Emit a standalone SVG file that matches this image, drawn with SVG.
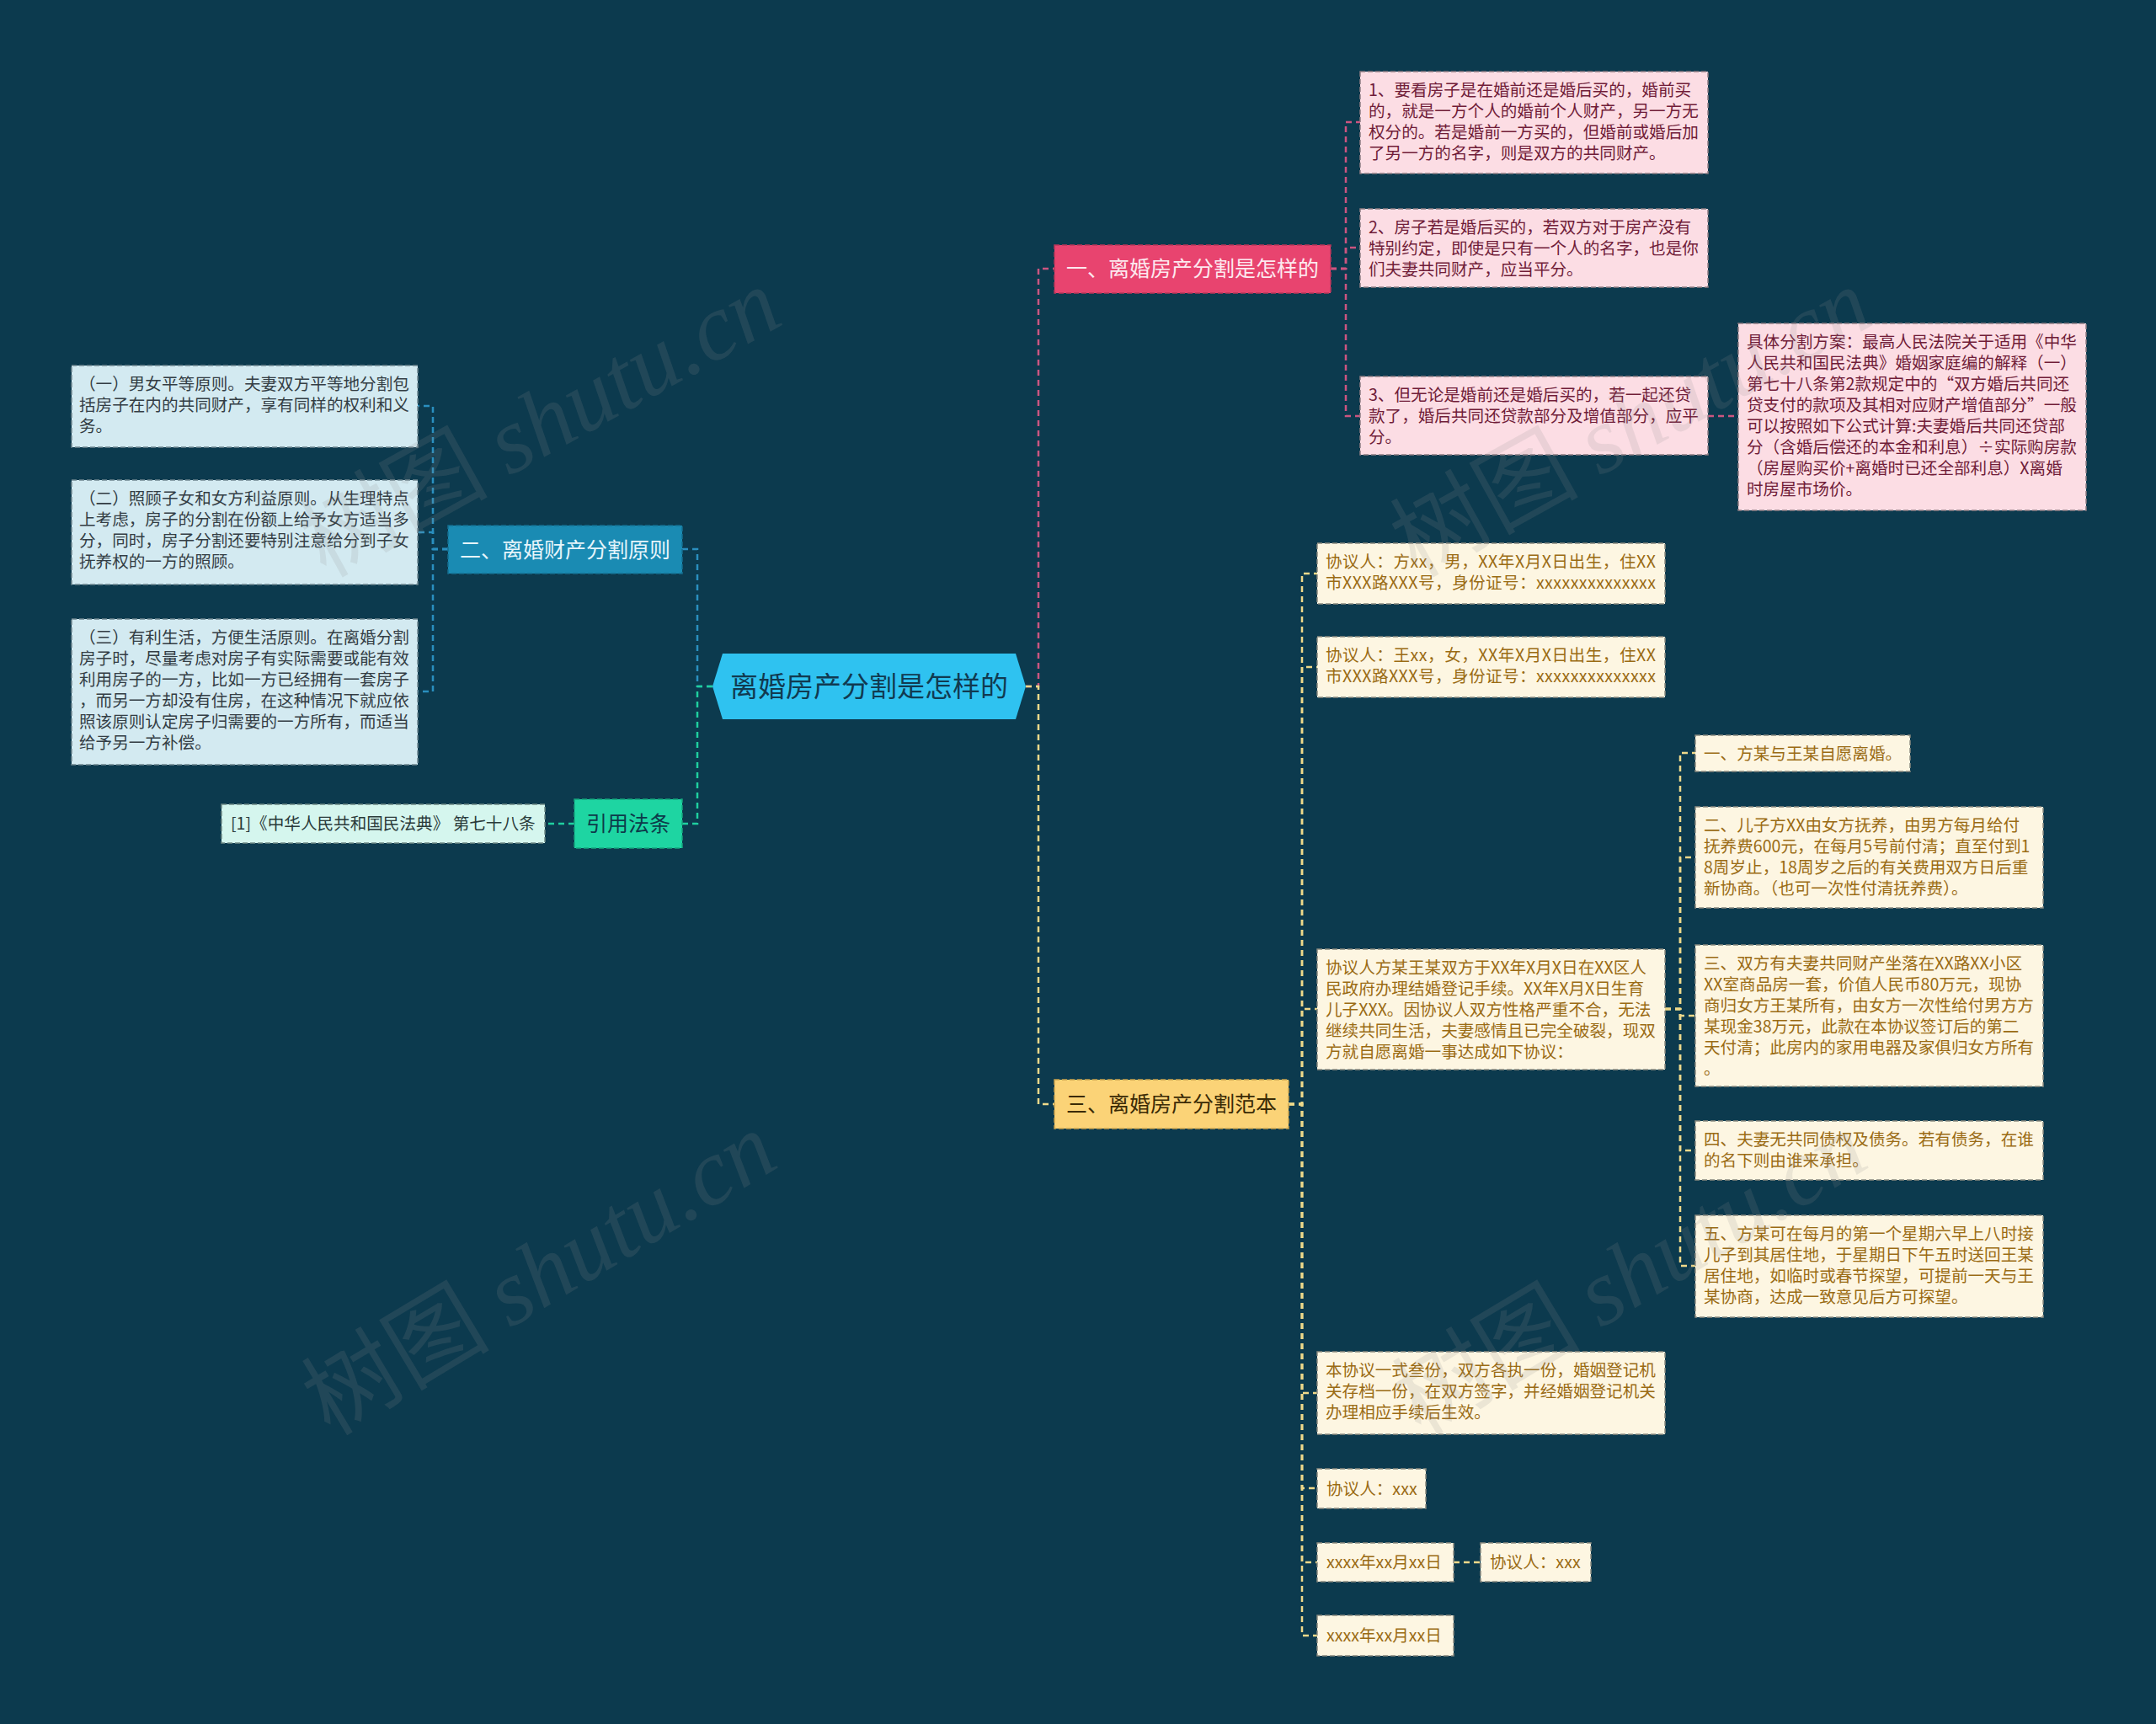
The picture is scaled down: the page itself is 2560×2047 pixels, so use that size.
<svg xmlns="http://www.w3.org/2000/svg" width="2560" height="2047" viewBox="0 0 2560 2047">
<style>
text{font-family:"Noto Sans CJK SC","Noto Sans",sans-serif;}
.c{fill:none;stroke-width:2.5;stroke-dasharray:7 5;}
.cp{stroke:#cc5580;}
.cb{stroke:#2a8fbf;}
.cg{stroke:#1fcf9f;}
.cy{stroke:#efd98a;}
.bd{stroke-width:1.5;stroke-dasharray:6 3;}
.pk{fill:#fcdde4;stroke:#8f7d84;}
.bl{fill:#d3eaf1;stroke:#6f8790;}
.mn{fill:#d5f6ee;stroke:#6f8a86;}
.cr{fill:#fdf6e2;stroke:#8a8a80;}
.tp{fill:#701c38;font-size:19.6px;}
.tb{fill:#333d44;font-size:19.6px;}
.ty{fill:#9a6b14;font-size:19.6px;}
.tm{fill:#2a3a3a;font-size:19.6px;}
.br{font-size:25px;text-anchor:middle;}
.wm{fill:#8c8c8c;fill-opacity:0.16;font-size:112px;}
</style>
<rect x="0" y="0" width="2560" height="2047" fill="#0c3a4e"/>

<g id="connectors">
<path class="c cp" d="M1218,815 H1233 V319 H1252"/>
<path class="c cy" d="M1218,815 H1233 V1311 H1252"/>
<path class="c cb" d="M846,815 H828 V652 H810"/>
<path class="c cg" d="M846,815 H828 V978 H810"/>
<path class="c cp" d="M1580,319 H1598 V145 H1615"/>
<path class="c cp" d="M1580,319 H1598 V294 H1615"/>
<path class="c cp" d="M1580,319 H1598 V494 H1615"/>
<path class="c cp" d="M2028,494 H2064"/>
<path class="c cb" d="M532,652 H514 V482 H496"/>
<path class="c cb" d="M532,652 H514 V632 H496"/>
<path class="c cb" d="M532,652 H514 V821 H496"/>
<path class="c cg" d="M682,978 H647"/>
<path class="c cy" d="M1530,1311 H1546 V681 H1564"/>
<path class="c cy" d="M1530,1311 H1546 V792 H1564"/>
<path class="c cy" d="M1530,1311 H1546 V1198 H1564"/>
<path class="c cy" d="M1530,1311 H1546 V1654 H1564"/>
<path class="c cy" d="M1530,1311 H1546 V1767 H1564"/>
<path class="c cy" d="M1530,1311 H1546 V1855 H1564"/>
<path class="c cy" d="M1530,1311 H1546 V1942 H1564"/>
<path class="c cy" d="M1726,1855 H1758"/>
<path class="c cy" d="M1977,1198 H1995 V894 H2013"/>
<path class="c cy" d="M1977,1198 H1995 V1018 H2013"/>
<path class="c cy" d="M1977,1198 H1995 V1206 H2013"/>
<path class="c cy" d="M1977,1198 H1995 V1366 H2013"/>
<path class="c cy" d="M1977,1198 H1995 V1503 H2013"/>
</g>

<g id="root">
<polygon points="858,776 1206,776 1218,815 1206,854 858,854 846,815" fill="#2fc2f0"/>
<text x="1032" y="827" font-size="33" text-anchor="middle" fill="#113a50">离婚房产分割是怎样的</text>
</g>

<g id="branch1">
<rect x="1252" y="291" width="328" height="57" fill="#e8446f" stroke="#b8365a" class="bd"/>
<text class="br" x="1416" y="328" fill="#fde9ef">一、离婚房产分割是怎样的</text>
</g>
<g id="p1">
<rect class="pk bd" x="1615" y="85" width="413" height="121"/>
<text class="tp"><tspan x="1625" y="114">1、要看房子是在婚前还是婚后买的，婚前买</tspan><tspan x="1625" y="139">的，就是一方个人的婚前个人财产，另一方无</tspan><tspan x="1625" y="164">权分的。若是婚前一方买的，但婚前或婚后加</tspan><tspan x="1625" y="189">了另一方的名字，则是双方的共同财产。</tspan></text>
</g>
<g id="p2">
<rect class="pk bd" x="1615" y="248" width="413" height="93"/>
<text class="tp"><tspan x="1625" y="277">2、房子若是婚后买的，若双方对于房产没有</tspan><tspan x="1625" y="302">特别约定，即使是只有一个人的名字，也是你</tspan><tspan x="1625" y="327">们夫妻共同财产，应当平分。</tspan></text>
</g>
<g id="p3">
<rect class="pk bd" x="1615" y="447" width="413" height="93"/>
<text class="tp"><tspan x="1625" y="476">3、但无论是婚前还是婚后买的，若一起还贷</tspan><tspan x="1625" y="501">款了，婚后共同还贷款部分及增值部分，应平</tspan><tspan x="1625" y="526">分。</tspan></text>
</g>
<g id="p4">
<rect class="pk bd" x="2064" y="384" width="413" height="222"/>
<text class="tp"><tspan x="2074" y="413">具体分割方案：最高人民法院关于适用《中华</tspan><tspan x="2074" y="438">人民共和国民法典》婚姻家庭编的解释（一）</tspan><tspan x="2074" y="463">第七十八条第2款规定中的“双方婚后共同还</tspan><tspan x="2074" y="488">贷支付的款项及其相对应财产增值部分”一般</tspan><tspan x="2074" y="513">可以按照如下公式计算:夫妻婚后共同还贷部</tspan><tspan x="2074" y="538">分（含婚后偿还的本金和利息）÷实际购房款</tspan><tspan x="2074" y="563">（房屋购买价+离婚时已还全部利息）X离婚</tspan><tspan x="2074" y="588">时房屋市场价。</tspan></text>
</g>

<g id="branch2">
<rect x="532" y="624" width="278" height="57" fill="#1a8bb3" stroke="#146f90" class="bd"/>
<text class="br" x="671" y="662" fill="#e6f5fb">二、离婚财产分割原则</text>
</g>
<g id="b1">
<rect class="bl bd" x="85" y="434" width="411" height="97"/>
<text class="tb"><tspan x="94" y="463">（一）男女平等原则。夫妻双方平等地分割包</tspan><tspan x="94" y="488">括房子在内的共同财产，享有同样的权利和义</tspan><tspan x="94" y="513">务。</tspan></text>
</g>
<g id="b2">
<rect class="bl bd" x="85" y="570" width="411" height="124"/>
<text class="tb"><tspan x="94" y="599">（二）照顾子女和女方利益原则。从生理特点</tspan><tspan x="94" y="624">上考虑，房子的分割在份额上给予女方适当多</tspan><tspan x="94" y="649">分，同时，房子分割还要特别注意给分到子女</tspan><tspan x="94" y="674">抚养权的一方的照顾。</tspan></text>
</g>
<g id="b3">
<rect class="bl bd" x="85" y="735" width="411" height="173"/>
<text class="tb"><tspan x="94" y="764">（三）有利生活，方便生活原则。在离婚分割</tspan><tspan x="94" y="789">房子时，尽量考虑对房子有实际需要或能有效</tspan><tspan x="94" y="814">利用房子的一方，比如一方已经拥有一套房子</tspan><tspan x="94" y="839">，而另一方却没有住房，在这种情况下就应依</tspan><tspan x="94" y="864">照该原则认定房子归需要的一方所有，而适当</tspan><tspan x="94" y="889">给予另一方补偿。</tspan></text>
</g>

<g id="law">
<rect x="682" y="949" width="128" height="58" fill="#1ed5a2" stroke="#15a57d" class="bd"/>
<text class="br" x="746" y="987" fill="#0d3a4a">引用法条</text>
</g>
<g id="law1">
<rect class="mn bd" x="263" y="955" width="384" height="46"/>
<text class="tm" x="274" y="985">[1]《中华人民共和国民法典》 第七十八条</text>
</g>

<g id="branch3">
<rect x="1252" y="1282" width="278" height="58" fill="#fbd377" stroke="#c9a24e" class="bd"/>
<text class="br" x="1391" y="1320" fill="#3a2a05">三、离婚房产分割范本</text>
</g>
<g id="y1">
<rect class="cr bd" x="1564" y="645" width="413" height="72"/>
<text class="ty" x="1574" y="674" textLength="392">协议人：方xx，男，XX年X月X日出生，住XX</text>
<text class="ty" x="1574" y="699" textLength="392">市XXX路XXX号，身份证号：xxxxxxxxxxxxxx</text>
</g>
<g id="y2">
<rect class="cr bd" x="1564" y="756" width="413" height="72"/>
<text class="ty" x="1574" y="785" textLength="392">协议人：王xx，女，XX年X月X日出生，住XX</text>
<text class="ty" x="1574" y="810" textLength="392">市XXX路XXX号，身份证号：xxxxxxxxxxxxxx</text>
</g>
<g id="y3">
<rect class="cr bd" x="1564" y="1127" width="413" height="143"/>
<text class="ty"><tspan x="1574" y="1156">协议人方某王某双方于XX年X月X日在XX区人</tspan><tspan x="1574" y="1181">民政府办理结婚登记手续。XX年X月X日生育</tspan><tspan x="1574" y="1206">儿子XXX。因协议人双方性格严重不合，无法</tspan><tspan x="1574" y="1231">继续共同生活，夫妻感情且已完全破裂，现双</tspan><tspan x="1574" y="1256">方就自愿离婚一事达成如下协议：</tspan></text>
</g>
<g id="s1">
<rect class="cr bd" x="2013" y="873" width="255" height="43"/>
<text class="ty" x="2023" y="902">一、方某与王某自愿离婚。</text>
</g>
<g id="s2">
<rect class="cr bd" x="2013" y="958" width="413" height="120"/>
<text class="ty"><tspan x="2023" y="987">二、儿子方XX由女方抚养，由男方每月给付</tspan><tspan x="2023" y="1012">抚养费600元，在每月5号前付清；直至付到1</tspan><tspan x="2023" y="1037">8周岁止，18周岁之后的有关费用双方日后重</tspan><tspan x="2023" y="1062">新协商。（也可一次性付清抚养费）。</tspan></text>
</g>
<g id="s3">
<rect class="cr bd" x="2013" y="1122" width="413" height="168"/>
<text class="ty"><tspan x="2023" y="1151">三、双方有夫妻共同财产坐落在XX路XX小区</tspan><tspan x="2023" y="1176">XX室商品房一套，价值人民币80万元，现协</tspan><tspan x="2023" y="1201">商归女方王某所有，由女方一次性给付男方方</tspan><tspan x="2023" y="1226">某现金38万元，此款在本协议签订后的第二</tspan><tspan x="2023" y="1251">天付清；此房内的家用电器及家俱归女方所有</tspan><tspan x="2023" y="1276">。</tspan></text>
</g>
<g id="s4">
<rect class="cr bd" x="2013" y="1331" width="413" height="70"/>
<text class="ty"><tspan x="2023" y="1360">四、夫妻无共同债权及债务。若有债务，在谁</tspan><tspan x="2023" y="1385">的名下则由谁来承担。</tspan></text>
</g>
<g id="s5">
<rect class="cr bd" x="2013" y="1443" width="413" height="121"/>
<text class="ty"><tspan x="2023" y="1472">五、方某可在每月的第一个星期六早上八时接</tspan><tspan x="2023" y="1497">儿子到其居住地，于星期日下午五时送回王某</tspan><tspan x="2023" y="1522">居住地，如临时或春节探望，可提前一天与王</tspan><tspan x="2023" y="1547">某协商，达成一致意见后方可探望。</tspan></text>
</g>
<g id="y4">
<rect class="cr bd" x="1564" y="1605" width="413" height="98"/>
<text class="ty"><tspan x="1574" y="1634">本协议一式叁份，双方各执一份，婚姻登记机</tspan><tspan x="1574" y="1659">关存档一份，在双方签字，并经婚姻登记机关</tspan><tspan x="1574" y="1684">办理相应手续后生效。</tspan></text>
</g>
<g id="y5">
<rect class="cr bd" x="1564" y="1744" width="129" height="47"/>
<text class="ty" x="1575" y="1775">协议人：xxx</text>
</g>
<g id="y6">
<rect class="cr bd" x="1564" y="1832" width="162" height="46"/>
<text class="ty" x="1575" y="1862">xxxx年xx月xx日</text>
</g>
<g id="y6c">
<rect class="cr bd" x="1758" y="1832" width="131" height="46"/>
<text class="ty" x="1769" y="1862">协议人：xxx</text>
</g>
<g id="y7">
<rect class="cr bd" x="1564" y="1918" width="162" height="48"/>
<text class="ty" x="1575" y="1949">xxxx年xx月xx日</text>
</g>

<g id="watermarks">
<text class="wm" transform="translate(660,535) rotate(-29)" text-anchor="middle">树图 <tspan font-family="Liberation Serif" font-style="italic">shutu.cn</tspan></text>
<text class="wm" transform="translate(660,1545) rotate(-31)" text-anchor="middle">树图 <tspan font-family="Liberation Serif" font-style="italic">shutu.cn</tspan></text>
<text class="wm" transform="translate(1955,535) rotate(-29)" text-anchor="middle">树图 <tspan font-family="Liberation Serif" font-style="italic">shutu.cn</tspan></text>
<text class="wm" transform="translate(1955,1545) rotate(-31)" text-anchor="middle">树图 <tspan font-family="Liberation Serif" font-style="italic">shutu.cn</tspan></text>
</g>
</svg>
